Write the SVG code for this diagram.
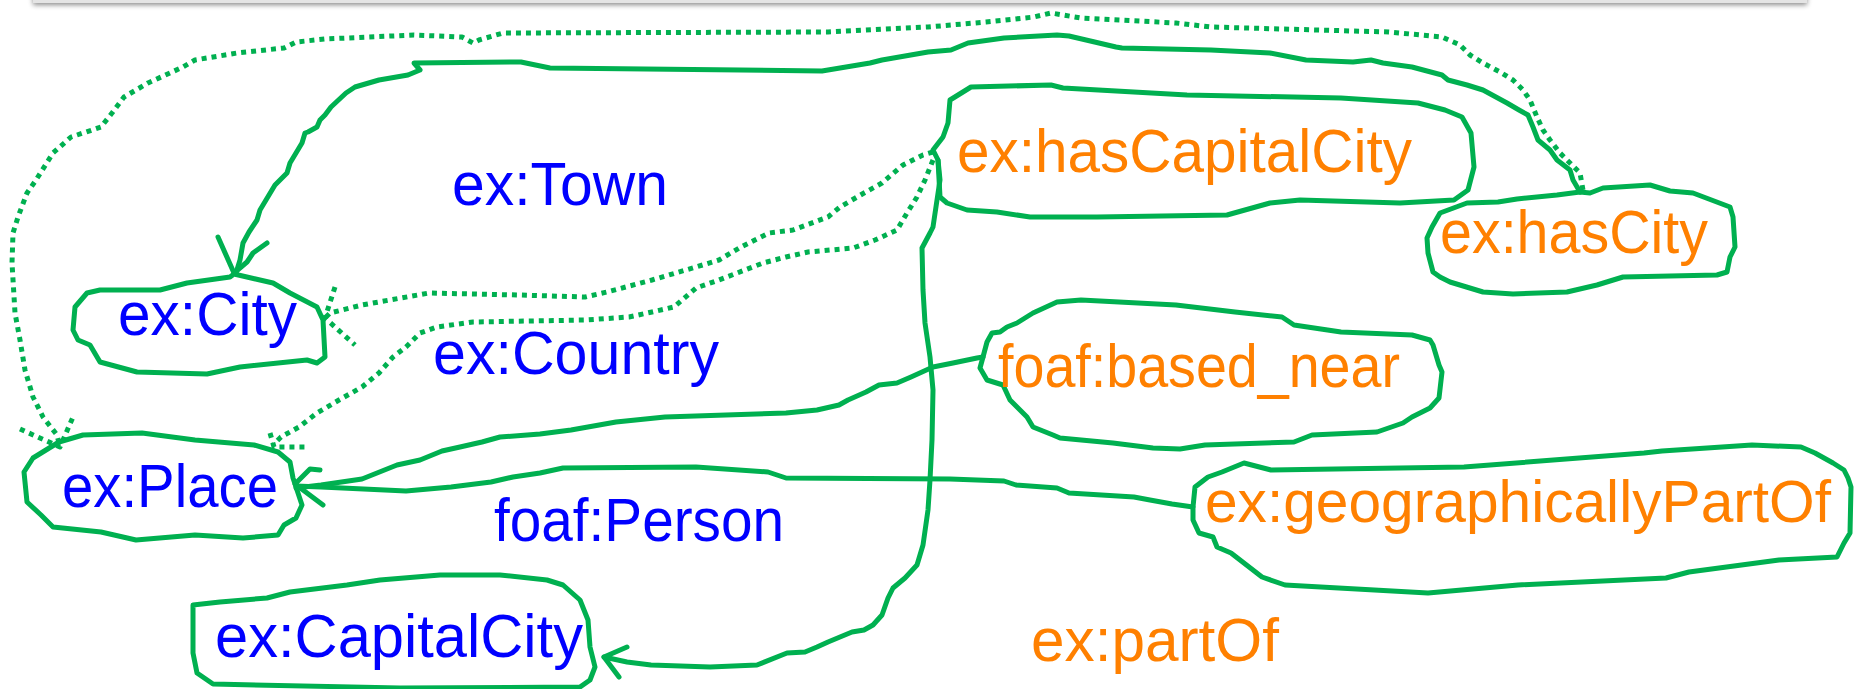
<svg xmlns="http://www.w3.org/2000/svg" width="1854" height="689" viewBox="0 0 1854 689">
<defs>
<filter id="sh" x="-5%" y="-100%" width="110%" height="400%">
<feDropShadow dx="0" dy="2" stdDeviation="2.5" flood-color="#000" flood-opacity="0.45"/>
</filter>
</defs>
<style>
.blob{fill:none;stroke:#00B050;stroke-width:5;stroke-linejoin:round;stroke-linecap:round}
.line{fill:none;stroke:#00B050;stroke-width:5;stroke-linejoin:round;stroke-linecap:round}
.dot{fill:none;stroke:#00B050;stroke-width:5;stroke-dasharray:5 5;stroke-linejoin:round}
.t{font-family:"Liberation Sans",Arial,sans-serif;font-size:62px}
.b{fill:#0000FF}
.o{fill:#FF8000}
</style>
<rect width="1854" height="689" fill="#ffffff"/>
<rect x="33" y="-20" width="1774" height="23" fill="#e4e4e4" filter="url(#sh)"/>

<g id="connectors">
<polyline class="line" points="1580,192 1573,180 1570,170 1557,160 1550,150 1538,140 1533,127 1528,115 1519,110 1507,103 1483,90 1467,85 1448,80 1442,75 1412,67 1383,63 1371,60 1353,62 1306,60 1270,53 1211,50 1122,48 1116,47 1069,36 1057,35 1004,38 968,43 951,50 928,52 882,60 870,63 828,70 822,71 550,68 521,62 414,63 420,70 408,75 379,80 355,87 346,93 331,107 325,115 320,120 317,127 308,132 305,133 302,143 290,163 287,173 275,185 260,210 257,220 249,232 243,243 240,260 236,273"/>
<path class="line" d="M218,237 L234,273 L247,262 L253,253 L267,243"/>

<polyline class="line" points="938,160 940,180 937,200 933,227 930,233 922,248 923,290 925,323 930,357 933,390 932,440 930,480 928,510 923,545 917,565 905,578 893,588 888,598 882,615 873,625 864,630 852,632 828,642 817,647 805,652 787,653 757,665 710,667 651,665 627,662 604,657"/>
<path class="line" d="M627,647 L604,657 L619,677"/>

<polyline class="line" points="983,357 977,358 953,363 933,367 911,377 897,383 879,385 866,392 848,400 839,405 817,410 786,413 665,417 616,422 571,430 540,434 500,437 482,442 460,447 442,451 420,460 397,465 362,479 321,485 296,488"/>
<path class="line" d="M320,470 L310,469 L295,484 L323,505"/>

<polyline class="line" points="1193,507 1172,504 1150,500 1134,497 1069,493 1057,488 1016,485 1004,481 950,479 786,478 768,472 696,467 563,468 540,473 513,477 491,482 451,487 406,491 321,487 296,486"/>

<polyline class="dot" points="1583,190 1580,173 1570,163 1560,153 1550,140 1543,130 1537,117 1530,100 1523,90 1513,80 1500,72 1483,63 1470,55 1460,45 1442,37 1389,32 1211,27 1176,23 1081,18 1051,13 1034,17 986,22 928,27 828,32 503,33 479,40 473,43 462,37 414,35 325,39 296,42 284,48 237,53 195,60 183,67 148,83 124,97 112,113 101,127 71,137 53,153 36,180 27,193 18,217 13,233 12,263 15,313 20,340 25,370 33,397 43,417 57,435 60,447"/>
<path class="dot" d="M20,429 L60,447 L73,417"/>

<polyline class="dot" points="933,152 923,155 903,165 882,183 864,193 840,207 828,217 793,230 769,233 741,247 719,260 696,267 652,280 607,292 585,297 518,295 429,293 362,305 330,313 325,318"/>
<path class="dot" d="M335,287 L325,318 L355,345"/>

<polyline class="dot" points="933,160 925,180 917,197 907,213 897,230 875,240 853,248 808,252 786,257 763,263 719,280 696,288 674,307 652,312 629,317 585,320 473,322 437,327 420,333 406,347 393,357 379,373 362,387 339,400 317,413 299,427 281,437 273,445"/>
<path class="dot" d="M270,433 L274,447 L307,447"/>
</g>

<g id="node-city">
<path class="blob" d="M87,293 L100,290 L160,290 L187,283 L230,277 L234,274 L273,283 L290,293 L317,307 L323,320 L325,357 L317,363 L307,360 L240,367 L207,374 L137,372 L100,362 L90,345 L78,340 L73,330 L75,307 Z"/>
<text class="t b" x="118" y="335" textLength="179" lengthAdjust="spacingAndGlyphs">ex:City</text>
</g>

<g id="node-place">
<path class="blob" d="M33,458 L59,442 L83,435 L142,433 L195,440 L254,445 L278,452 L290,462 L293,478 L302,505 L296,518 L284,525 L278,535 L243,538 L195,535 L136,540 L101,532 L53,527 L41,515 L27,502 L24,472 Z"/>
<text class="t b" x="62" y="507" textLength="216" lengthAdjust="spacingAndGlyphs">ex:Place</text>
</g>

<g id="node-capitalcity">
<path class="blob" d="M193,605 L220,602 L267,598 L290,592 L347,585 L380,580 L440,575 L500,575 L547,580 L563,585 L580,600 L588,620 L590,647 L595,667 L590,680 L580,687 L400,688 L213,684 L197,673 L193,653 Z"/>
<text class="t b" x="215" y="657" textLength="368" lengthAdjust="spacingAndGlyphs">ex:CapitalCity</text>
</g>

<g id="node-hascapitalcity">
<path class="blob" d="M950,100 L971,87 L1051,85 L1063,88 L1187,95 L1341,98 L1418,103 L1445,110 L1462,117 L1471,133 L1474,167 L1468,190 L1454,200 L1400,203 L1300,200 L1270,203 L1227,215 L1097,217 L1030,217 L997,212 L967,210 L947,203 L940,197 L938,160 L933,150 L943,137 L948,123 Z"/>
<text class="t o" x="957" y="172" textLength="455" lengthAdjust="spacingAndGlyphs">ex:hasCapitalCity</text>
</g>

<g id="node-hascity">
<path class="blob" d="M1580,192 L1590,193 L1603,188 L1650,185 L1670,191 L1693,193 L1730,207 L1733,217 L1735,247 L1730,257 L1727,272 L1717,275 L1623,277 L1597,285 L1567,292 L1513,294 L1483,292 L1450,282 L1440,277 L1433,272 L1428,253 L1427,238 L1432,227 L1440,213 L1467,203 L1498,202 L1517,199 L1557,195 Z"/>
<text class="t o" x="1440" y="253" textLength="268" lengthAdjust="spacingAndGlyphs">ex:hasCity</text>
</g>

<g id="node-basednear">
<path class="blob" d="M983,357 L987,342 L992,333 L1000,332 L1007,327 L1017,323 L1033,313 L1057,302 L1081,300 L1176,305 L1235,312 L1282,317 L1294,325 L1341,332 L1412,335 L1430,340 L1433,345 L1439,365 L1442,372 L1439,398 L1430,408 L1412,417 L1403,423 L1377,432 L1312,435 L1294,442 L1205,445 L1180,449 L1153,448 L1113,443 L1060,438 L1053,435 L1033,427 L1027,417 L1010,400 L1003,385 L987,380 L980,368 Z"/>
<text class="t o" x="998" y="387" textLength="402" lengthAdjust="spacingAndGlyphs">foaf:based_near</text>
</g>

<g id="node-geopartof">
<path class="blob" d="M1193,507 L1195,487 L1208,477 L1222,472 L1244,463 L1271,470 L1464,467 L1644,453 L1662,451 L1752,445 L1801,447 L1815,453 L1833,463 L1844,470 L1848,478 L1851,487 L1850,533 L1844,543 L1837,557 L1779,560 L1689,572 L1666,578 L1518,585 L1428,593 L1285,585 L1262,577 L1231,553 L1217,547 L1213,537 L1199,533 L1193,520 Z"/>
<text class="t o" x="1205" y="522" font-size="59" style="font-size:59px" textLength="626" lengthAdjust="spacingAndGlyphs">ex:geographicallyPartOf</text>
</g>

<g id="labels">
<text class="t b" x="452" y="205" textLength="216" lengthAdjust="spacingAndGlyphs">ex:Town</text>
<text class="t b" x="433" y="374" textLength="286" lengthAdjust="spacingAndGlyphs">ex:Country</text>
<text class="t b" x="494" y="541" textLength="290" lengthAdjust="spacingAndGlyphs">foaf:Person</text>
<text class="t o" x="1031" y="661" textLength="248" lengthAdjust="spacingAndGlyphs">ex:partOf</text>
</g>
</svg>
